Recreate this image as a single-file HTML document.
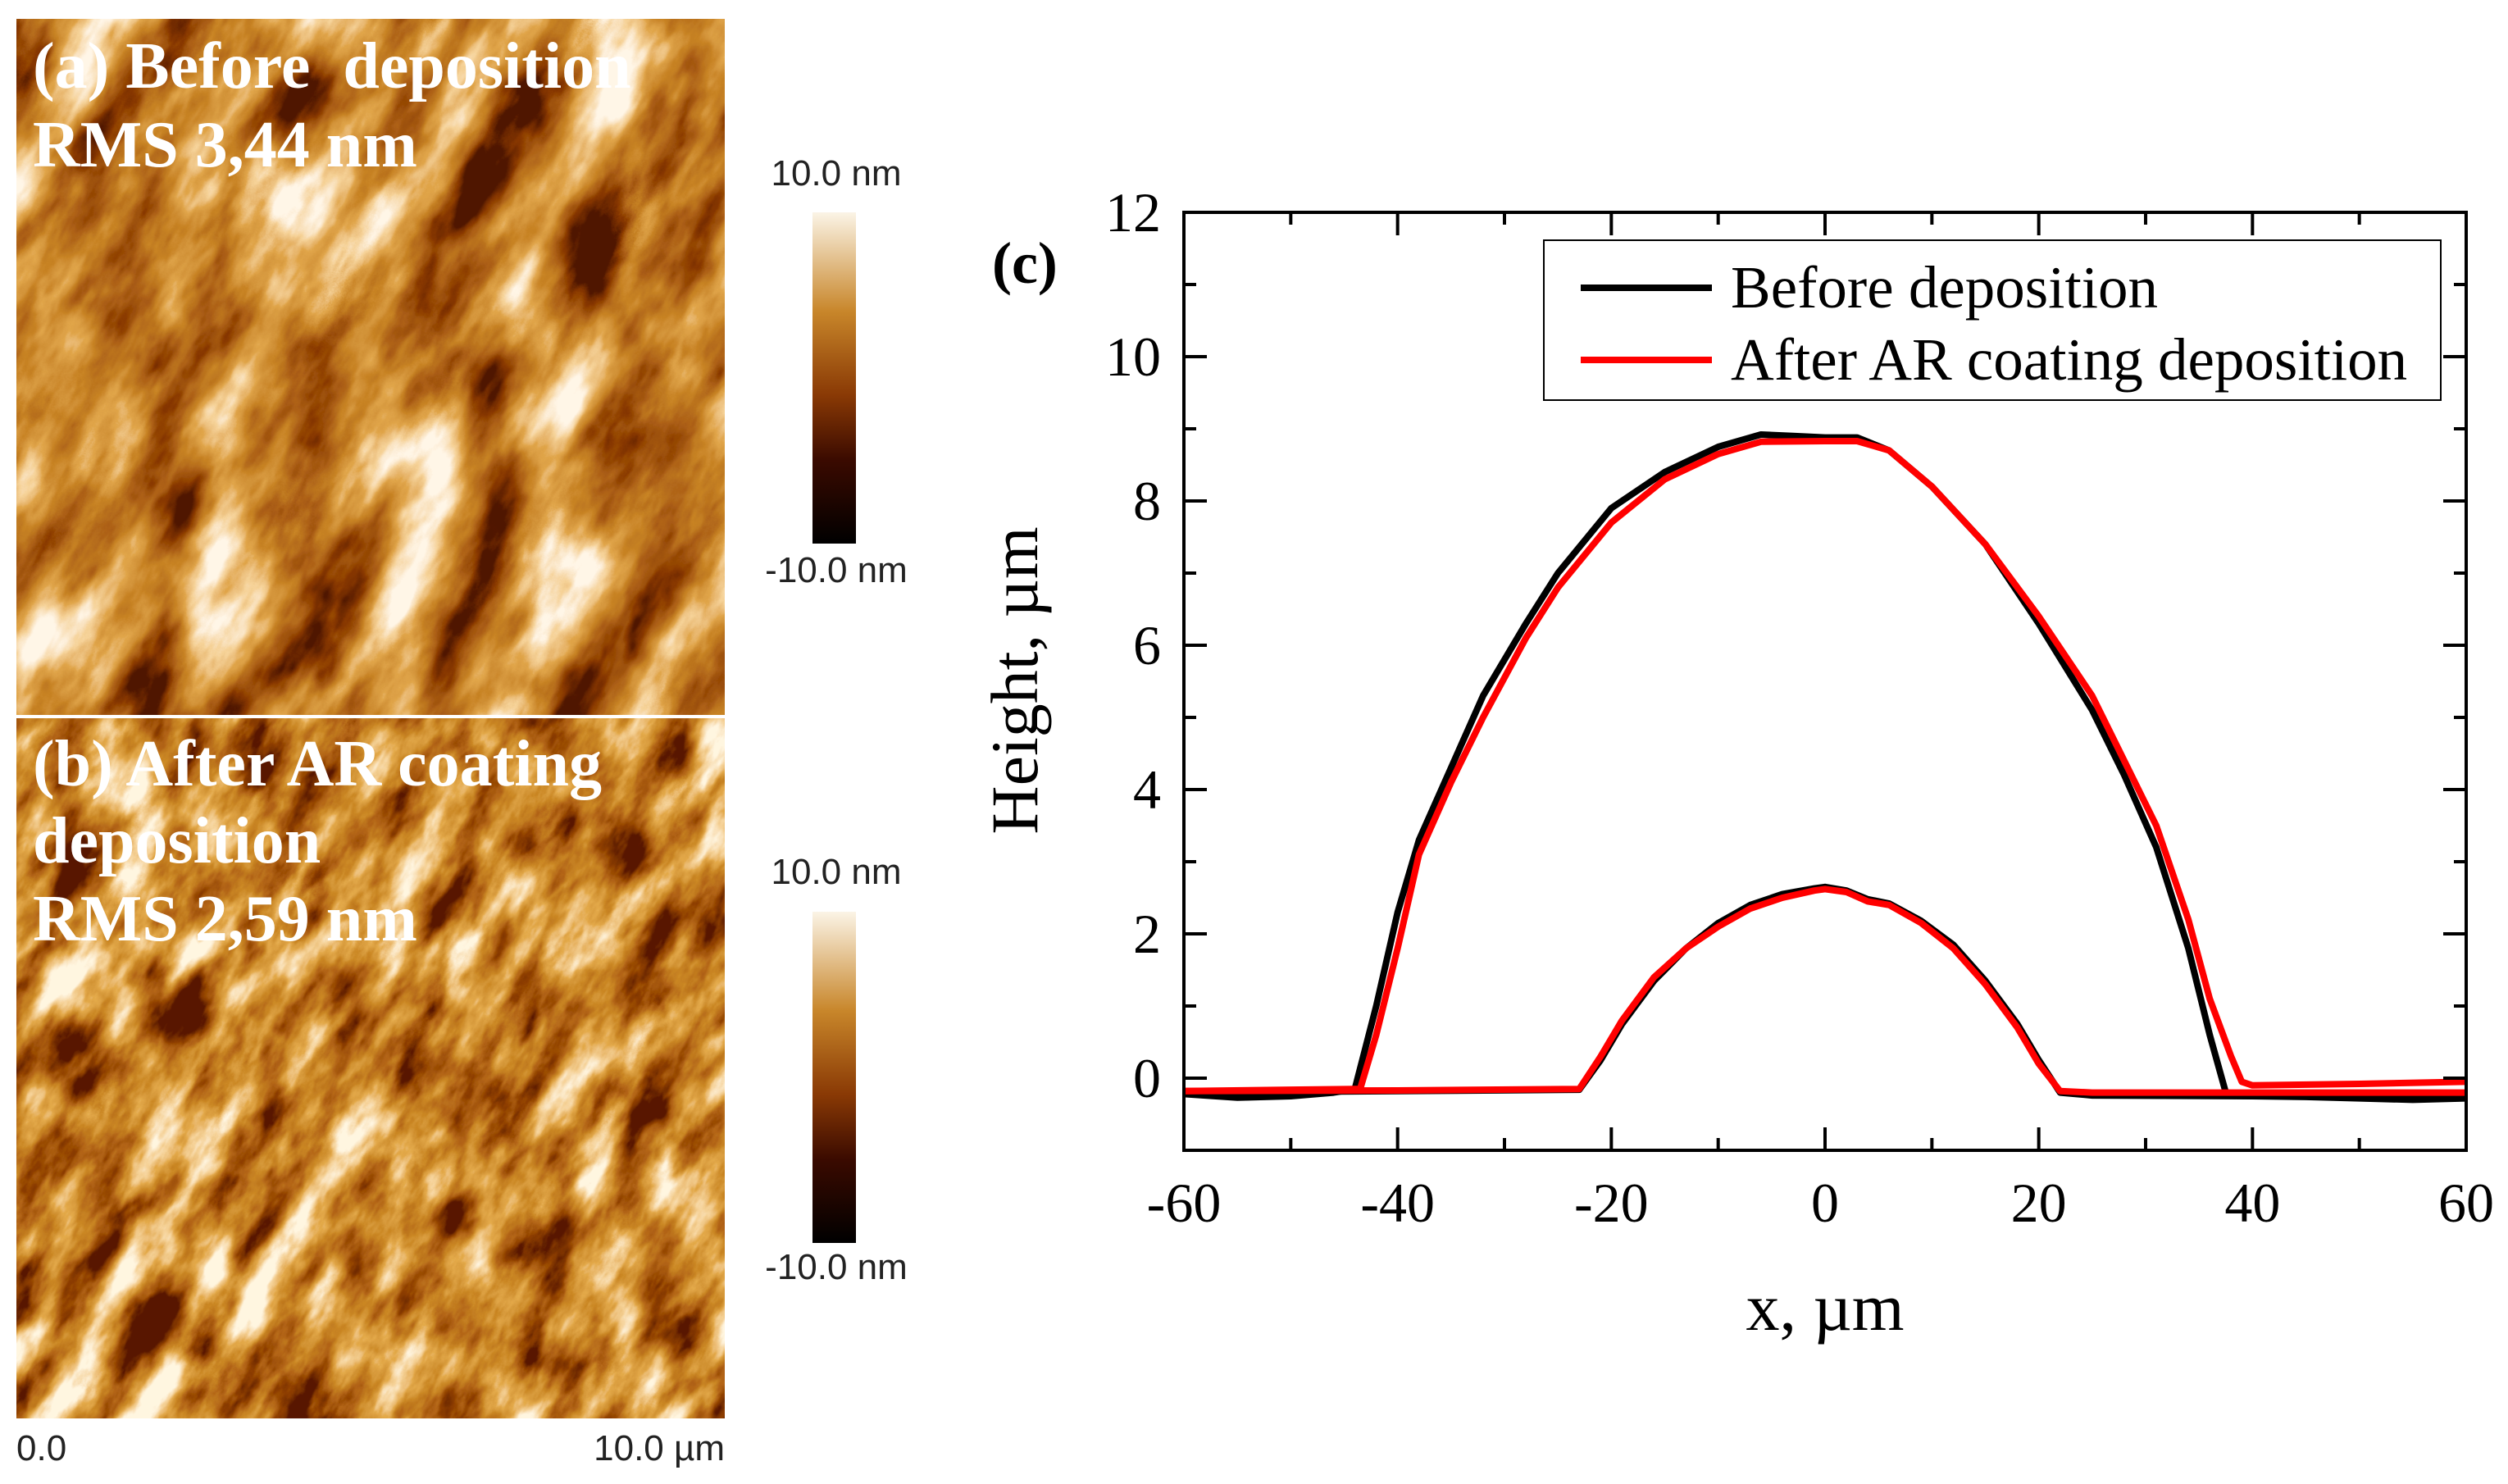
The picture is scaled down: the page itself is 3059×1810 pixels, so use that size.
<!DOCTYPE html>
<html><head><meta charset="utf-8"><style>
html,body{margin:0;padding:0;background:#fff;overflow:hidden;}
body{width:3059px;height:1810px;overflow:hidden;position:relative;font-family:"Liberation Serif",serif;}
svg#fig{display:block;position:absolute;left:0;top:0;}
</style></head><body>
<svg id="fig" width="3059" height="1810" viewBox="0 0 3059 1810" xmlns="http://www.w3.org/2000/svg">
<defs>
<filter id="afmA" x="0" y="0" width="100%" height="100%">
<feTurbulence type="fractalNoise" baseFrequency="0.012 0.005" numOctaves="5" seed="3"/>
<feColorMatrix type="matrix" values="0.33 0.33 0.33 0 0  0.33 0.33 0.33 0 0  0.33 0.33 0.33 0 0  0 0 0 0 1"/>
<feComponentTransfer>
<feFuncR type="linear" slope="3.2" intercept="-1.1"/>
<feFuncG type="linear" slope="3.2" intercept="-1.1"/>
<feFuncB type="linear" slope="3.2" intercept="-1.1"/>
</feComponentTransfer>
<feComponentTransfer>
<feFuncR type="table" tableValues="0.08 0.25 0.42 0.58 0.75 0.92 1"/>
<feFuncG type="table" tableValues="0.01 0.04 0.12 0.23 0.38 0.65 0.92"/>
<feFuncB type="table" tableValues="0 0 0.01 0.02 0.07 0.32 0.8"/>
</feComponentTransfer>
</filter>
<filter id="afmB" x="0" y="0" width="100%" height="100%">
<feTurbulence type="fractalNoise" baseFrequency="0.02 0.009" numOctaves="5" seed="11"/>
<feColorMatrix type="matrix" values="0.33 0.33 0.33 0 0  0.33 0.33 0.33 0 0  0.33 0.33 0.33 0 0  0 0 0 0 1"/>
<feComponentTransfer>
<feFuncR type="linear" slope="3.2" intercept="-1.1"/>
<feFuncG type="linear" slope="3.2" intercept="-1.1"/>
<feFuncB type="linear" slope="3.2" intercept="-1.1"/>
</feComponentTransfer>
<feComponentTransfer>
<feFuncR type="table" tableValues="0.1 0.27 0.45 0.6 0.77 0.92 1"/>
<feFuncG type="table" tableValues="0.01 0.05 0.13 0.25 0.4 0.65 0.92"/>
<feFuncB type="table" tableValues="0 0 0.01 0.02 0.07 0.32 0.75"/>
</feComponentTransfer>
</filter>
<pattern id="patA" patternUnits="userSpaceOnUse" x="-748" y="-752" width="2400" height="2400" patternTransform="rotate(30 452 448)">
<rect x="0" y="0" width="2400" height="2400" filter="url(#afmA)"/>
</pattern>
<pattern id="patB" patternUnits="userSpaceOnUse" x="-748" y="100" width="2400" height="2400" patternTransform="rotate(30 452 1300)">
<rect x="0" y="0" width="2400" height="2400" filter="url(#afmB)"/>
</pattern>
<linearGradient id="cbar" x1="0" y1="0" x2="0" y2="1">
<stop offset="0" stop-color="#fbf4e6"/>
<stop offset="0.3" stop-color="#c8862a"/>
<stop offset="0.55" stop-color="#8a3a05"/>
<stop offset="0.75" stop-color="#3a0a00"/>
<stop offset="1" stop-color="#000"/>
</linearGradient>
</defs>
<rect x="20" y="23" width="864" height="849" fill="url(#patA)"/>
<rect x="20" y="876" width="864" height="854" fill="url(#patB)"/>
<rect x="20" y="872" width="864" height="4" fill="#fff"/>
<g fill="#fff" font-weight="bold" font-size="80" font-family="Liberation Serif,serif">
<text x="40" y="107" xml:space="preserve">(a) Before  deposition</text>
<text x="40" y="203">RMS 3,44 nm</text>
<text x="40" y="958">(b) After AR coating</text>
<text x="40" y="1052">deposition</text>
<text x="40" y="1147">RMS 2,59 nm</text>
</g>
<rect x="991" y="259" width="53" height="404" fill="url(#cbar)"/>
<rect x="991" y="1112" width="53" height="404" fill="url(#cbar)"/>
<g font-family="Liberation Sans,sans-serif" font-size="44" fill="#222">
<text x="1020" y="226" text-anchor="middle">10.0 nm</text>
<text x="1020" y="710" text-anchor="middle">-10.0 nm</text>
<text x="1020" y="1078" text-anchor="middle">10.0 nm</text>
<text x="1020" y="1560" text-anchor="middle">-10.0 nm</text>
<text x="20" y="1781">0.0</text>
<text x="884" y="1781" text-anchor="end">10.0 µm</text>
</g>
<g id="chart"></g>
</svg>
<script>
const xTicks=[-60,-40,-20,0,20,40,60];
const yTicks=[0,2,4,6,8,10,12];
const beforeLargeX=[-60,-55,-50,-46,-44,-42,-40,-38,-35,-32,-28,-25,-20,-15,-10,-6,-3,0,3,6,10,15,20,25,28,31,34,36,37.5,40,45,50,55,60];
const beforeLargeY=[-0.22,-0.27,-0.25,-0.2,-0.15,1,2.3,3.3,4.3,5.3,6.3,7.0,7.9,8.4,8.75,8.92,8.9,8.88,8.88,8.7,8.2,7.4,6.3,5.1,4.2,3.2,1.8,0.6,-0.2,-0.25,-0.26,-0.28,-0.3,-0.28];
const afterLargeX=[-60,-50,-43.5,-42,-40,-38,-35,-32,-28,-25,-20,-15,-10,-6,0,3,6,10,15,20,25,28,31,34,36,38,39,40,50,60];
const afterLargeY=[-0.18,-0.16,-0.15,0.6,1.8,3.1,4.1,5.0,6.1,6.8,7.7,8.3,8.65,8.82,8.83,8.83,8.7,8.2,7.4,6.4,5.3,4.4,3.5,2.2,1.1,0.3,-0.05,-0.1,-0.08,-0.05];
const smallX=[-60,-40,-23,-21,-19,-16,-13,-10,-7,-4,-1,0,2,4,6,9,12,15,18,20,22,25,40,60];
const beforeSmallY=[-0.2,-0.18,-0.16,0.25,0.75,1.35,1.8,2.15,2.4,2.55,2.63,2.65,2.6,2.48,2.42,2.18,1.85,1.35,0.75,0.25,-0.2,-0.24,-0.25,-0.25];
const afterSmallY=[-0.18,-0.17,-0.15,0.3,0.8,1.4,1.8,2.1,2.35,2.5,2.6,2.62,2.58,2.45,2.4,2.15,1.8,1.3,0.7,0.2,-0.18,-0.2,-0.2,-0.2];
const L=1444,R=3008,T=259,B=1403,xmin=-60,xmax=60,ymin=-1,ymax=12;
const sx=v=>L+(v-xmin)/(xmax-xmin)*(R-L);
const sy=v=>B-(v-ymin)/(ymax-ymin)*(B-T);
const NS='http://www.w3.org/2000/svg';
const g=document.getElementById('chart');
function mk(tag,attrs,parent){const e=document.createElementNS(NS,tag);for(const k in attrs)e.setAttribute(k,attrs[k]);(parent||g).appendChild(e);return e;}
function line(xs,ys,color,name){
  const p=mk('path',{d:xs.map((x,i)=>(i?'L':'M')+sx(x).toFixed(1)+','+sy(ys[i]).toFixed(1)).join(''),fill:'none',stroke:color,'stroke-width':8,'stroke-linejoin':'round'});
  
  
}
line(beforeLargeX,beforeLargeY,'#000','before-large-curve');
line(smallX,beforeSmallY,'#000','before-small-curve');
line(afterLargeX,afterLargeY,'#f00','after-large-curve');
line(smallX,afterSmallY,'#f00','after-small-curve');
const frame=mk('rect',{x:L,y:T,width:R-L,height:B-T,fill:'none',stroke:'#000','stroke-width':4});


for(let v=xmin;v<=xmax;v+=10){
  const major=v%20===0,len=major?28:15;
  mk('line',{x1:sx(v),x2:sx(v),y1:B,y2:B-len,stroke:'#000','stroke-width':4});
  mk('line',{x1:sx(v),x2:sx(v),y1:T,y2:T+len,stroke:'#000','stroke-width':4});
}
for(let v=-1;v<=12;v+=1){
  const major=v%2===0,len=major?28:15;
  mk('line',{x1:L,x2:L+len,y1:sy(v),y2:sy(v),stroke:'#000','stroke-width':4});
  mk('line',{x1:R,x2:R-len,y1:sy(v),y2:sy(v),stroke:'#000','stroke-width':4});
}
xTicks.forEach(v=>{const t=mk('text',{x:sx(v),y:B+87,'text-anchor':'middle','font-size':68,'font-family':'Liberation Serif,serif'});t.textContent=v;
  
  });
yTicks.forEach(v=>{const t=mk('text',{x:L-28,y:sy(v)+23,'text-anchor':'end','font-size':68,'font-family':'Liberation Serif,serif'});t.textContent=v;
  
  });
const xt=mk('text',{x:(L+R)/2,y:1622,'text-anchor':'middle','font-size':82,'font-family':'Liberation Serif,serif'});xt.textContent='x, µm';


const yt=mk('text',{x:0,y:0,'text-anchor':'middle','font-size':82,'font-family':'Liberation Serif,serif',transform:'translate(1265,830) rotate(-90)'});yt.textContent='Height, µm';


const pc=mk('text',{x:1210,y:345,'font-size':72,'font-weight':'bold','font-family':'Liberation Serif,serif'});pc.textContent='(c)';


const lg=mk('g',{});


mk('rect',{x:1883,y:293,width:1094,height:195,fill:'#fff',stroke:'#000','stroke-width':2},lg);
[['Before deposition','#000',351],['After AR coating deposition','#f00',439]].forEach(([lab,c,y])=>{
  const e=mk('g',{},lg);
  
  
  mk('line',{x1:1928,x2:2088,y1:y,y2:y,stroke:c,'stroke-width':8},e);
  const t=mk('text',{x:2111,y:y+24,'font-size':73,'font-family':'Liberation Serif,serif'},e);t.textContent=lab;
});
</script>
</body></html>
